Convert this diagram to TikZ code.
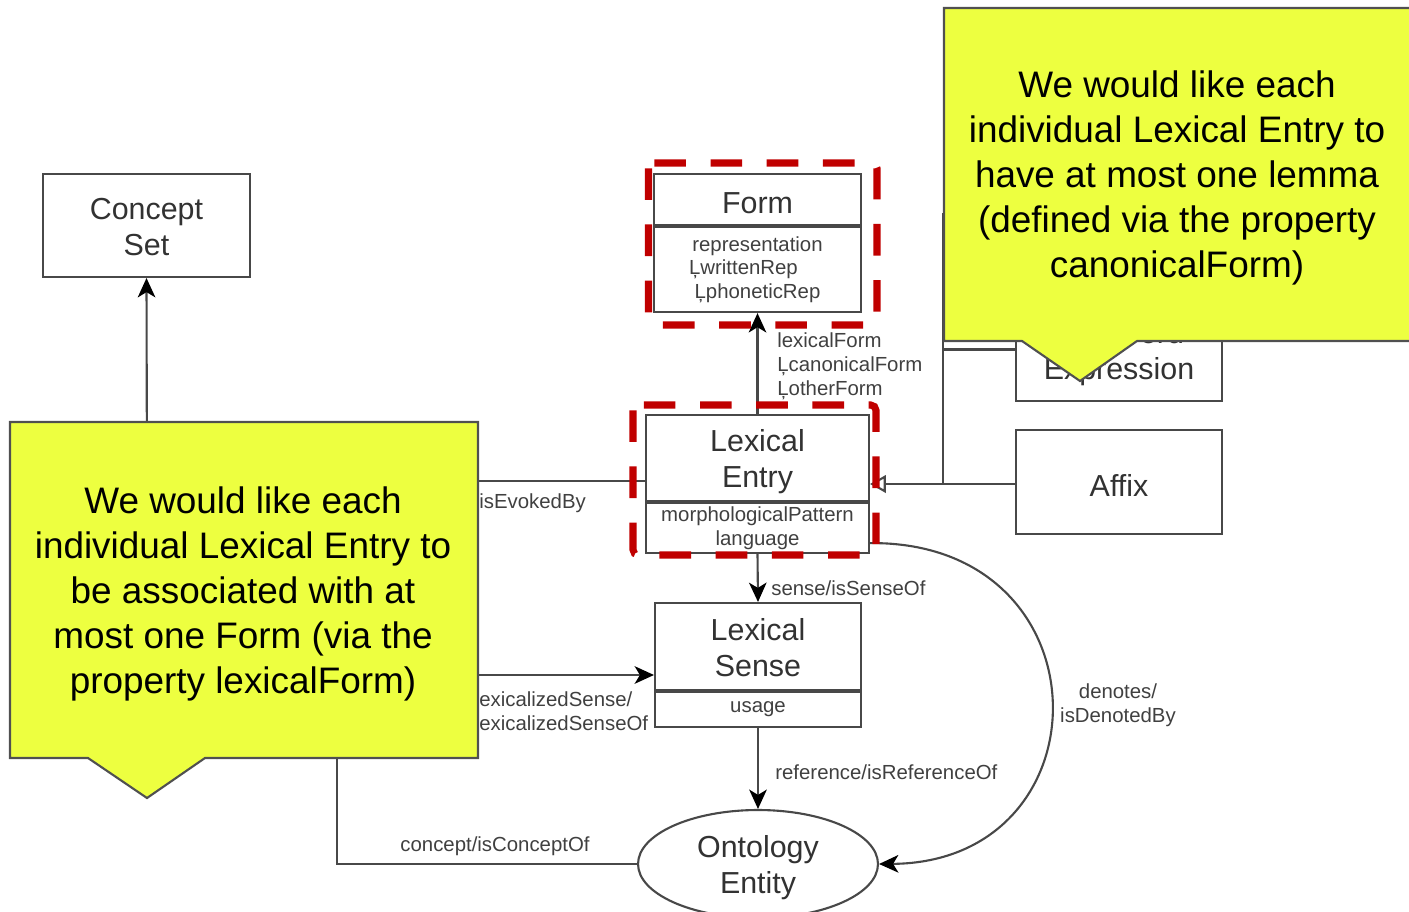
\documentclass[tikz,border=0pt]{standalone}
\usepackage{fontspec}
\setmainfont{Liberation Sans}
\usetikzlibrary{arrows.meta,shapes.geometric}
\definecolor{linec}{RGB}{72,72,72}
\definecolor{titlec}{RGB}{50,50,50}
\definecolor{lblc}{RGB}{64,64,64}
\definecolor{redc}{RGB}{192,0,0}
\definecolor{notec}{RGB}{237,255,64}
\definecolor{notebd}{RGB}{80,80,80}

\begin{document}
\begin{tikzpicture}[x=0.02cm,y=-0.02cm,
  box/.style={draw=linec,line width=1.2pt,fill=white,inner sep=0pt,align=center,text=titlec},
  ttl/.style={box,font=\fontsize{17.3}{20.4}\selectfont,execute at begin node={\rule{0pt}{16.4pt}}},
  ttltwo/.style={ttl,text height=37.5pt,text depth=3.6pt},
  attr/.style={box,font=\fontsize{11.6}{13.4}\selectfont,text=lblc},
  lbl/.style={inner sep=0pt,text=lblc,font=\fontsize{11.6}{13.6}\selectfont},
  conn/.style={draw=linec,line width=1.2pt},
  arr/.style={conn,-{Stealth[length=11pt,width=10pt,inset=3pt,color=black]}},
  gen/.style={conn,-{Triangle[open,length=9pt,width=10pt,fill=white]}},
  focus/.style={draw=redc,line width=4pt,dash pattern=on 18pt off 14pt,rounded corners=3pt},
  note/.style={fill=notec,draw=notebd,line width=1.2pt,line join=miter},
  notetext/.style={inner sep=0pt,align=center,text=black,font=\fontsize{21}{25.6}\selectfont}
]
\useasboundingbox (0,0) rectangle (1409,912);

% free ends of connectors that run under the notes
\coordinate (evk) at (300,481);
\coordinate (lxs) at (300,675);
\coordinate (cpt) at (337,700);
\coordinate (csb) at (147,500);
\coordinate (jn) at (943,484);
\coordinate (wd) at (943,213);

% classes
\node[ttltwo,minimum width=4.14cm,minimum height=2.06cm] (cset) at (146.5,225.5) {Concept\\Set};
\node[ttl,minimum width=4.14cm,minimum height=1.02cm] (formT) at (757.5,199.5) {Form};
\node[attr,minimum width=4.14cm,minimum height=1.70cm,anchor=north] (formA) at (formT.south)
  {representation\\ĻwrittenRep\rule{16pt}{0pt}\\ĻphoneticRep};
\node[ttltwo,minimum width=4.46cm,minimum height=1.72cm] (entryT) at (757.5,458) {Lexical\\Entry};
\node[attr,minimum width=4.46cm,minimum height=1.00cm,anchor=north] (entryA) at (entryT.south)
  {morphologicalPattern\\language};
\node[ttltwo,minimum width=4.12cm,minimum height=1.74cm] (senseT) at (758,646.5) {Lexical\\Sense};
\node[attr,minimum width=4.12cm,minimum height=0.70cm,anchor=north] (senseA) at (senseT.south) {usage};
\node[ttltwo,minimum width=4.12cm,minimum height=2.06cm] (mwe) at (1119,349.5) {Multiword\\Expression};
\node[ttl,minimum width=4.12cm,minimum height=2.08cm] (affix) at (1119,482) {Affix};
\node[ttltwo,ellipse,minimum width=4.8cm,minimum height=2.16cm] (onto) at (758,864) {Ontology\\Entity};

% connectors
\draw[conn] (evk -| entryT.west) -- (evk);
\draw[arr] (lxs) -- (lxs -| senseT.west);
\draw[conn] (onto.west) -| (cpt);
\draw[arr] (csb) -- (cset.south);
\draw[arr] (entryT.north) -- (formA.south);
\draw[arr] (entryA.south) -- (senseT.north);
\draw[arr] (senseA.south) -- (onto.north);
\draw[arr] ([yshift=-0.3cm]entryA.east) .. controls (1110,541) and (1110,862) .. (onto.east);
\draw[gen] (affix.west |- jn) -- (jn -| entryT.east);
\draw[conn] (mwe.west) -| (jn);
\draw[conn] (wd) -- (mwe.west -| jn);

% connector labels
\node[lbl,anchor=west,align=left] (lfLbl) at (777,366) {lexicalForm\\ĻcanonicalForm\\ĻotherForm};
\node[lbl,anchor=west] (senseLbl) at (771,588) {sense/isSenseOf};
\node[lbl,anchor=west] (refLbl) at (775,772) {reference/isReferenceOf};
\node[lbl,align=center] (denLbl) at (1118,705) {denotes/\\isDenotedBy};
\node[lbl] (cptLbl) at (495,846) {concept/isConceptOf};
\node[lbl,anchor=west] (evkLbl) at (479,503) {isEvokedBy};
\node[lbl,anchor=west] (lxs1) at (479,699) {\llap{l}exicalizedSense/};
\node[lbl,anchor=west] (lxs2) at (479,723) {\llap{isL}exicalizedSenseOf};

% highlighted classes
\draw[focus] (648.5,163) rectangle (877,325);
\draw[focus] (633,405) rectangle (876,555);

% notes
\draw[note] (10,422) -- (478,422) -- (478,758) -- (205,758) -- (147,798) -- (88,758) -- (10,758) -- cycle;
\node[notetext] (noteL) at (243,594) {We would like each\\individual Lexical Entry to\\be associated with at\\most one Form (via the\\property lexicalForm)};
\draw[note] (944,8) -- (1420,8) -- (1420,341) -- (1137,341) -- (1080,381) -- (1022,341) -- (944,341) -- cycle;
\node[notetext] (noteR) at (1177,178) {We would like each\\individual Lexical Entry to\\have at most one lemma\\(defined via the property\\canonicalForm)};
\end{tikzpicture}
\end{document}
